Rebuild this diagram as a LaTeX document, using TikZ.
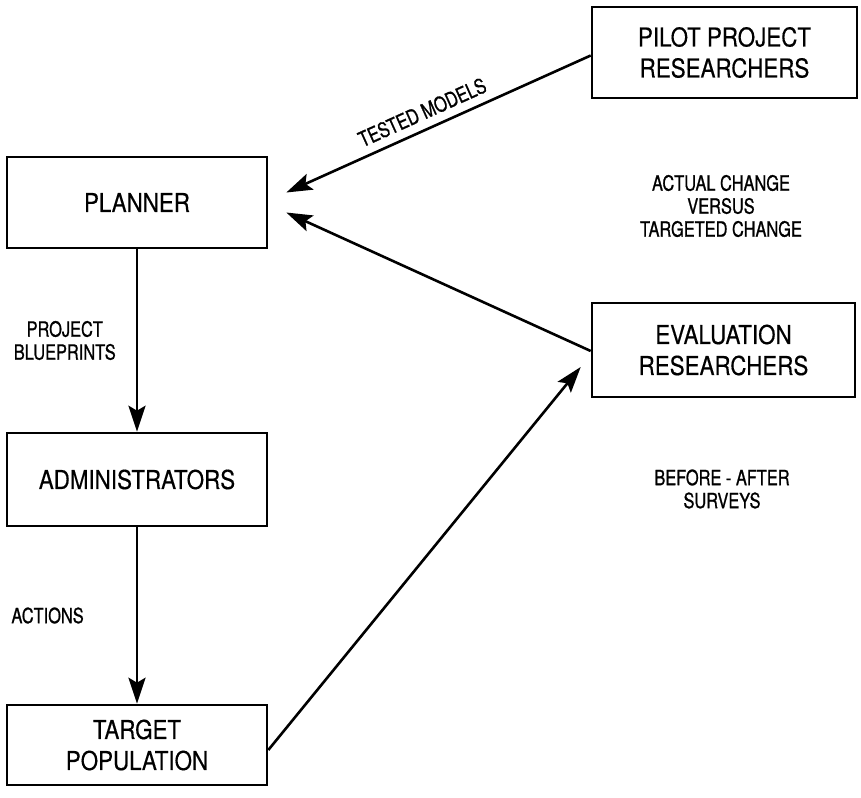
\documentclass[tikz,border=0pt]{standalone}
\usepackage{fontspec}
\newfontfamily\boxfont{TeX Gyre Heros}[FakeStretch=0.86,FakeBold=0.4]
\newfontfamily\lblfont{TeX Gyre Heros}[FakeStretch=0.78,FakeBold=0.9]
\usetikzlibrary{arrows.meta,calc}

\begin{document}
\begin{tikzpicture}[x=1pt,y=-1pt,
  box/.style={draw, line width=2.6pt, align=center, inner sep=0pt,
    font=\boxfont\fontsize{26}{31}\selectfont},
  lbl/.style={align=center, inner sep=0pt,
    font=\lblfont\fontsize{21}{23}\selectfont},
  link/.style={line width=2.6pt, -{Stealth[length=26pt,width=17pt,inset=5pt]}}]

  \useasboundingbox (0,0) rectangle (861,797);

  % boxes
  \node[box, minimum width=260pt, minimum height=91pt] (planner) at (137,202.5) {PLANNER};
  \node[box, minimum width=260pt, minimum height=93pt] (admin) at (137,479.5) {ADMINISTRATORS};
  \node[box, minimum width=260pt, minimum height=80pt] (target) at (137,745) {TARGET\\POPULATION};
  \node[box, minimum width=265pt, minimum height=91pt] (pilot) at (724.5,52.5) {PILOT PROJECT\\RESEARCHERS};
  \node[box, minimum width=263pt, minimum height=94pt] (eval) at (723.5,350) {EVALUATION\\RESEARCHERS};

  % free-standing notes
  \node[lbl] (change) at (721,206) {ACTUAL CHANGE\\VERSUS\\TARGETED CHANGE};
  \node[lbl] (surveys) at (722,489) {BEFORE - AFTER\\SURVEYS};

  % connectors
  \draw[link] ([shift={(0,3)}]pilot.west) -- ([shift={(18,-10)}]planner.east)
    node[lbl, sloped, above=8pt, pos=0.53] (tested) {TESTED MODELS};
  \draw[link] ([shift={(0,1)}]eval.west) -- ([shift={(18,10)}]planner.east);
  \draw[link] (planner.south) -- (admin.north)
    node[lbl, left=20pt, midway] (blueprints) {PROJECT\\BLUEPRINTS};
  \draw[link] (admin.south) -- (target.north)
    node[lbl, left=52pt, midway] (actions) {ACTIONS};
  \draw[link] ([shift={(0,5)}]target.east) -- ([shift={(-10,17)}]eval.west);
\end{tikzpicture}
\end{document}
